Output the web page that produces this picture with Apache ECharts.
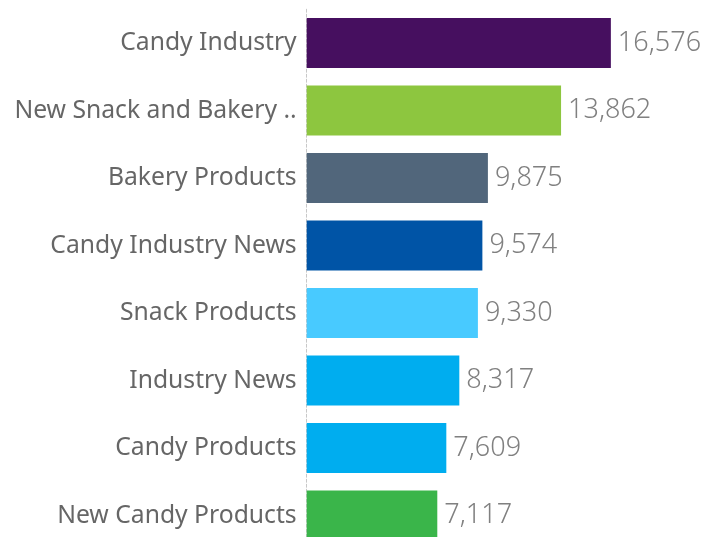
<!DOCTYPE html>
<html>
<head>
<meta charset="utf-8">
<script src="https://cdn.jsdelivr.net/npm/echarts@6/dist/echarts.min.js"></script>
<style>html,body{margin:0;padding:0;background:#fff;}#c{width:717px;height:537px;}</style>
</head>
<body>
<div id="c"></div>
<script>
const categories = ["Candy Industry","New Snack and Bakery ..","Bakery Products","Candy Industry News","Snack Products","Industry News","Candy Products","New Candy Products"];
const values = [16576,13862,9875,9574,9330,8317,7609,7117];
const barColors = ["#460f5f","#8dc63f","#51667b","#0054a6","#48caff","#00adef","#00adef","#3ab54a"];

const chart = echarts.init(document.getElementById('c'), null, {renderer:'canvas'});
chart.setOption({
  animation:false,
  grid:{left:306.7, right:0, top:9.25, height:540, containLabel:false, outerBoundsMode:'none'},
  xAxis:{type:'value', min:0, max:22360, show:false},
  yAxis:{type:'category', data:categories, inverse:true,
    axisLine:{show:true, lineStyle:{color:'#c8c8c8', type:[3,2], width:1}},
    axisTick:{show:false},
    axisLabel:{color:'#666666', fontSize:24.7, fontFamily:'Noto Sans', margin:10}
  },
  series:[{type:'bar', barWidth:50,
    data: values.map((v,i)=>({value:v, itemStyle:{color:barColors[i]}})),
    label:{show:true, position:'right', distance:7, color:'#808080', fontSize:27, fontFamily:'Noto Sans', fontWeight:300,
      formatter:p=>p.value.toLocaleString('en-US')}
  }]
});
</script>
</body>
</html>
